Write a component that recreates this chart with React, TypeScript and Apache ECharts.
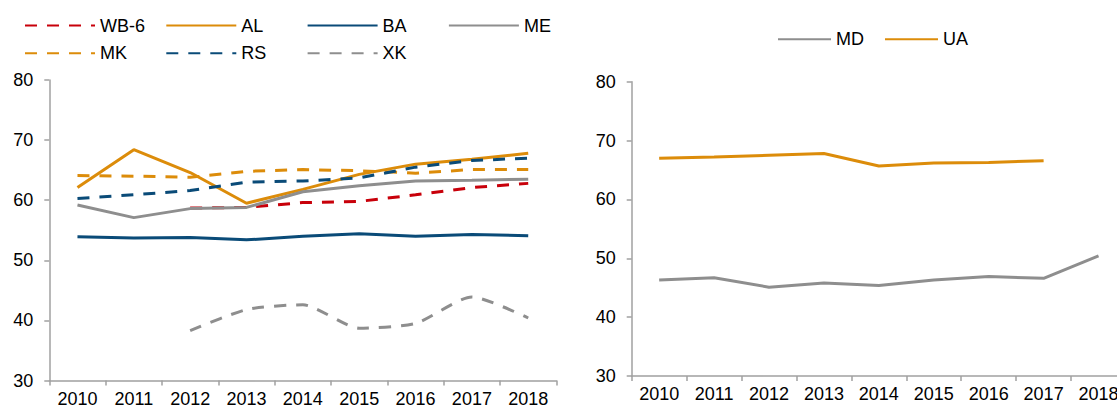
import React, { useEffect, useRef } from "react";
import * as echarts from "echarts";

const years = ["2010", "2011", "2012", "2013", "2014", "2015", "2016", "2017", "2018"];

const wb6 = [null, null, 58.7, 58.8, 59.6, 59.8, 60.9, 62.1, 62.8];
const al = [62.1, 68.4, 64.6, 59.5, 61.8, 64.3, 66.0, 66.8, 67.8];
const ba = [53.9, 53.7, 53.8, 53.4, 54.0, 54.4, 54.0, 54.3, 54.1];
const me = [59.2, 57.1, 58.6, 58.8, 61.4, 62.4, 63.2, 63.3, 63.5];
const mk = [64.1, 64.0, 63.8, 64.8, 65.1, 64.9, 64.5, 65.1, 65.1];
const rs = [60.3, 60.9, 61.6, 63.0, 63.2, 63.7, 65.5, 66.6, 67.0];
const xk = [null, null, 38.3, 41.8, 42.6, 38.7, 39.5, 43.9, 40.4];

const md = [46.3, 46.7, 45.1, 45.8, 45.4, 46.3, 46.9, 46.6, 50.4];
const ua = [67.0, 67.2, 67.5, 67.8, 65.7, 66.2, 66.3, 66.6, null];

const yTicks = { min: 30, max: 80, interval: 10 };

const RED = "#C8000A";
const ORANGE = "#DC8C0A";
const BLUE = "#0A4B78";
const GRAY = "#8E8E8E";

const FONT = "Liberation Sans, Arial, sans-serif";

export default function App() {
  const ref = useRef<HTMLDivElement>(null);
  useEffect(() => {
    if (!ref.current) return;
    const chart = echarts.init(ref.current, null, { renderer: "svg" });

    const leftSeries = [
      { name: "WB-6", data: wb6, color: RED, dashed: true },
      { name: "AL", data: al, color: ORANGE, dashed: false },
      { name: "BA", data: ba, color: BLUE, dashed: false },
      { name: "ME", data: me, color: GRAY, dashed: false },
      { name: "MK", data: mk, color: ORANGE, dashed: true },
      { name: "RS", data: rs, color: BLUE, dashed: true },
      { name: "XK", data: xk, color: GRAY, dashed: true, smooth: true },
    ];
    const rightSeries = [
      { name: "MD", data: md, color: GRAY, dashed: false },
      { name: "UA", data: ua, color: ORANGE, dashed: false },
    ];

    const mkSeries = (s: any, idx: number) => ({
      name: s.name,
      type: "line",
      xAxisIndex: idx,
      yAxisIndex: idx,
      data: s.data,
      symbol: "none",
      smooth: s.smooth ? 0.22 : false,
      color: s.color,
      lineStyle: {
        color: s.color,
        width: 3,
        type: s.dashed ? [12, 10] : "solid",
        cap: "butt",
      },
    });

    const legendCommon = {
      padding: 0,
      itemHeight: 14,
      itemStyle: { opacity: 0 },
      textStyle: { fontSize: 18, color: "#000", fontFamily: FONT, lineHeight: 18 },
    };

    const legends: any[] = leftSeries.map((s, i) => ({
      ...legendCommon,
      data: [s.name],
      left: 24 + (i % 4) * 141.3,
      top: i < 4 ? 16.5 : 44.2,
      itemWidth: 70,
    }));
    legends.push({
      ...legendCommon,
      data: rightSeries.map((s) => s.name),
      left: 777,
      top: 30.3,
      itemWidth: 53,
      itemGap: 20,
    });

    const axisLineStyle = { color: "#A0A0A0", width: 1.5 };
    const mkX = (gi: number) => ({
      type: "category",
      gridIndex: gi,
      data: years,
      boundaryGap: true,
      axisLine: { show: true, lineStyle: axisLineStyle },
      axisTick: { show: true, length: 5, lineStyle: axisLineStyle },
      axisLabel: { color: "#000", fontSize: 18, fontFamily: FONT, margin: 9, interval: 0, hideOverlap: false },
      splitLine: { show: false },
    });
    const mkY = (gi: number) => ({
      type: "value",
      gridIndex: gi,
      min: yTicks.min,
      max: yTicks.max,
      interval: yTicks.interval,
      axisLine: { show: true, lineStyle: axisLineStyle },
      axisTick: { show: true, length: 5, lineStyle: axisLineStyle },
      axisLabel: { color: "#000", fontSize: 18, fontFamily: FONT, margin: 16 },
      splitLine: { show: false },
    });

    chart.setOption({
      animation: false,
      textStyle: { fontFamily: FONT },
      legend: legends,
      grid: [
        { left: 49.3, width: 507.1, top: 80, height: 300.5, containLabel: false, outerBoundsMode: "none" },
        { left: 631.7, width: 494.3, top: 81.8, height: 294.2, containLabel: false, outerBoundsMode: "none" },
      ],
      xAxis: [mkX(0), mkX(1)],
      yAxis: [mkY(0), mkY(1)],
      series: [
        ...leftSeries.map((s) => mkSeries(s, 0)),
        ...rightSeries.map((s) => mkSeries(s, 1)),
      ],
    });

    return () => chart.dispose();
  }, []);

  return (
    <div
      ref={ref}
      style={{ position: "absolute", left: 0, top: 0, width: 1117, height: 408 }}
    />
  );
}
